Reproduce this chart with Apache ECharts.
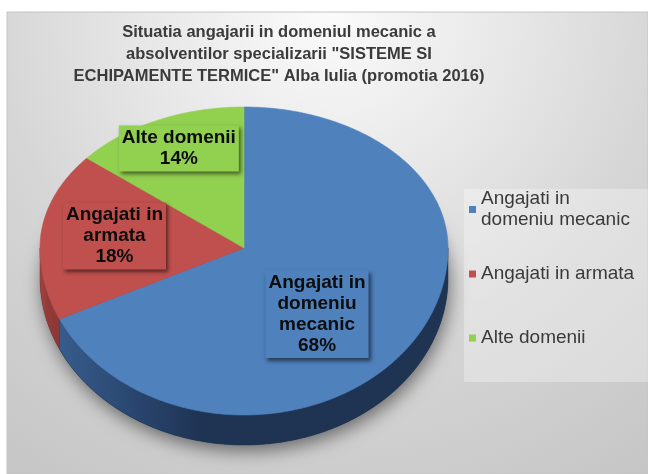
<!DOCTYPE html>
<html>
<head>
<meta charset="utf-8">
<script src="https://cdn.jsdelivr.net/npm/echarts@6/dist/echarts.min.js"></script>
<style>
  html, body { margin: 0; padding: 0; background: #fff; }
  #chart { width: 648px; height: 474px; }
</style>
</head>
<body>
<div id="chart"></div>
<script>
const categories = ['Angajati in domeniu mecanic', 'Angajati in armata', 'Alte domenii'];
const values = [68, 18, 14];
const sliceLabels = ['Angajati in\ndomeniu\nmecanic', 'Angajati in\narmata', 'Alte domenii'];
const legendLabels = ['Angajati in\ndomeniu mecanic', 'Angajati in armata', 'Alte domenii'];

const colors = ['#4f81bd', '#c0504d', '#92d050'];
const sideColors = [
  ['#375c8c', '#29456e', '#1f3352', '#1e3452'],
  ['#a04340', '#9a403d', '#923a37', '#8c3835'],
  ['#7aae3e', '#74a63a', '#6c9c35', '#669432']
];
const font = '"Liberation Sans", Arial, sans-serif';

// tilted pie geometry (top face)
const geo = { cx: 244, cy: 248, rx: 204, ryTop: 141, ryBot: 167, depth: 30 };
// label placement as fraction of radius along the mid angle
const labelFrac = [[0.424, 0.737], [0.64, 0.68], [0.75, 0.78]];

const total = values.reduce((a, b) => a + b, 0);

function pt(t, dz) {
  const s = Math.sin(t);
  return [geo.cx + geo.rx * Math.cos(t), geo.cy + (s < 0 ? geo.ryTop : geo.ryBot) * s + dz];
}
function arc(a, b, dz) {
  const n = Math.max(2, Math.ceil((b - a) / (Math.PI / 360)));
  const pts = [];
  for (let k = 0; k <= n; k++) pts.push(pt(a + (b - a) * k / n, dz));
  return pts;
}

function renderSlice(i) {
  return function (params, api) {
    let before = 0;
    for (let k = 0; k < i; k++) before += values[k];
    const a0 = before / total * Math.PI * 2 - Math.PI / 2;
    const a1 = a0 + api.value(0) / total * Math.PI * 2;
    const children = [];

    if (i === 0) {
      children.push({
        type: 'polygon',
        shape: { points: arc(0, Math.PI * 2, geo.depth) },
        style: {
          fill: '#1e3452',
          shadowBlur: 18,
          shadowColor: 'rgba(0,0,0,0.5)',
          shadowOffsetX: 2,
          shadowOffsetY: 6
        }
      });
    }

    const s = Math.max(a0, 0), e = Math.min(a1, Math.PI);
    if (e > s) {
      const sc = sideColors[i];
      const pts = arc(s, e, 0).concat(arc(s, e, geo.depth).reverse());
      children.push({
        type: 'polygon',
        shape: { points: pts },
        style: {
          fill: new echarts.graphic.LinearGradient(0, 0, 1, 0, [
            { offset: 0, color: sc[0] },
            { offset: 0.2, color: sc[1] },
            { offset: 0.37, color: sc[2] },
            { offset: 1, color: sc[3] }
          ]),
          stroke: sc[3],
          lineWidth: 0.5
        }
      });
    }

    children.push({
      type: 'polygon',
      shape: { points: [[geo.cx, geo.cy]].concat(arc(a0, a1, 0)) },
      style: { fill: colors[i], stroke: colors[i], lineWidth: 0.6 }
    });

    const mid = (a0 + a1) / 2;
    const sm = Math.sin(mid);
    const lx = geo.cx + geo.rx * labelFrac[i][0] * Math.cos(mid);
    const ly = geo.cy + (sm < 0 ? geo.ryTop : geo.ryBot) * labelFrac[i][1] * sm;
    const pct = Math.round(api.value(0) / total * 100) + '%';
    children.push({
      type: 'text',
      x: lx,
      y: ly,
      z2: 10,
      style: {
        text: sliceLabels[i] + '\n' + pct,
        align: 'center',
        verticalAlign: 'middle',
        fontSize: 19,
        fontWeight: 'bold',
        fontFamily: font,
        lineHeight: 21,
        fill: '#0d0d0d',
        backgroundColor: colors[i],
        padding: [2, 3],
        shadowBlur: 4,
        shadowColor: 'rgba(0,0,0,0.55)',
        shadowOffsetX: 2,
        shadowOffsetY: 3
      }
    });

    return { type: 'group', children: children };
  };
}

const legendTops = [178, 263.5, 327.5];

const chart = echarts.init(document.getElementById('chart'));
chart.setOption({
  animation: false,
  title: {
    text: 'Situatia angajarii in domeniul mecanic a\nabsolventilor specializarii "SISTEME SI\nECHIPAMENTE TERMICE" Alba Iulia (promotia 2016)',
    left: 279,
    top: 21,
    padding: 0,
    textAlign: 'center',
    textStyle: { fontSize: 16.5, fontWeight: 'bold', color: '#3a3a3a', lineHeight: 22, fontFamily: font }
  },
  graphic: [
    {
      type: 'rect',
      shape: { x: 7, y: 12, width: 641, height: 462 },
      style: {
        fill: new echarts.graphic.RadialGradient(0.5, 0, 1.2, [
          { offset: 0, color: '#fbfbfb' },
          { offset: 0.35, color: '#e6e6e6' },
          { offset: 0.6, color: '#d6d6d6' },
          { offset: 1, color: '#c6c6c6' }
        ]),
        stroke: '#c4c4c4',
        lineWidth: 1
      }
    },
    {
      type: 'rect',
      shape: { x: 464, y: 189, width: 184, height: 193 },
      style: { fill: 'rgba(255,255,255,0.3)' }
    }
  ],
  legend: categories.map((c, i) => ({
    data: [c],
    left: 469,
    top: legendTops[i],
    padding: 0,
    icon: 'rect',
    itemWidth: 7,
    itemHeight: 7,
    selectedMode: false,
    formatter: () => legendLabels[i],
    textStyle: {
      fontSize: 19,
      color: '#3a3a3a',
      lineHeight: 21,
      fontFamily: font,
      padding: i === 0 ? [21, 0, 0, 0] : 0
    }
  })),
  series: categories.map((c, i) => ({
    type: 'custom',
    name: c,
    coordinateSystem: 'none',
    silent: true,
    itemStyle: { color: colors[i] },
    data: [values[i]],
    renderItem: renderSlice(i)
  }))
});
</script>
</body>
</html>
